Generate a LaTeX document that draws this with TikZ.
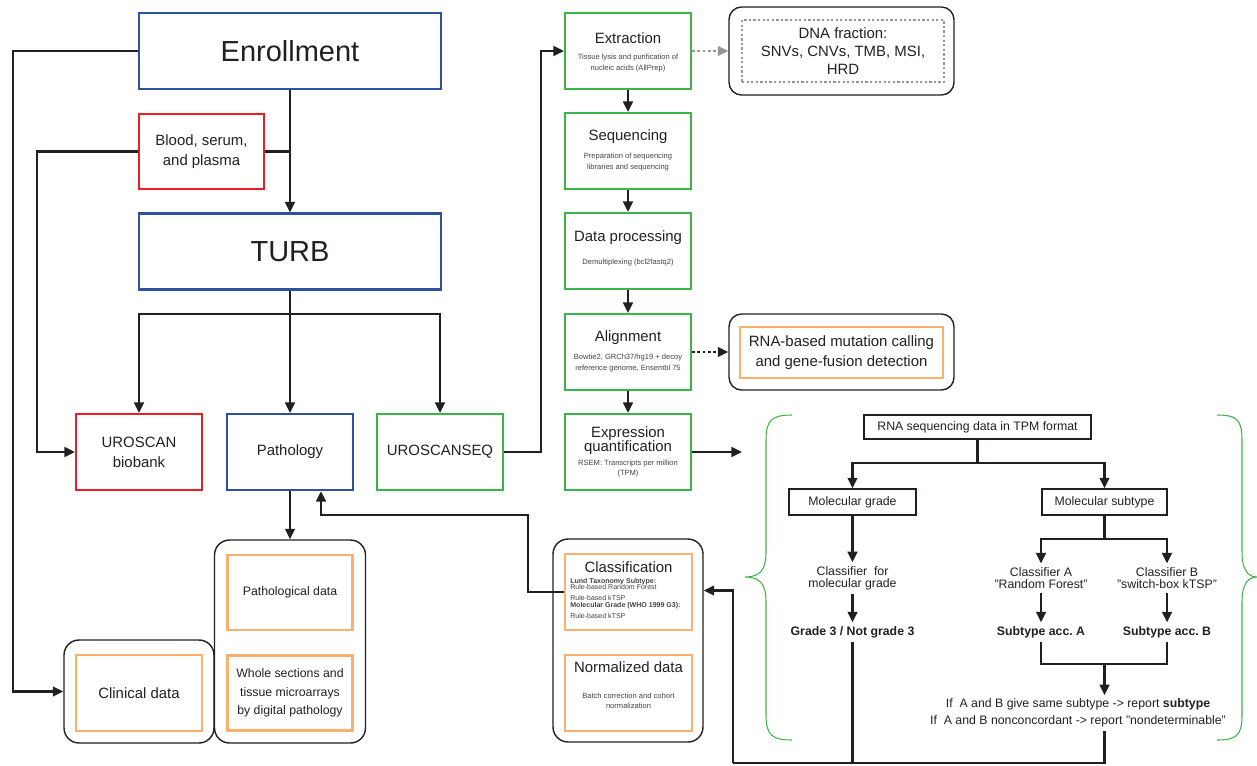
\documentclass[tikz,border=0pt]{standalone}
\usepackage{fontspec}
\setmainfont{Liberation Sans}
\usetikzlibrary{arrows.meta}
\definecolor{ink}{RGB}{35,31,32}
\definecolor{boxblue}{RGB}{46,82,160}
\definecolor{boxred}{RGB}{237,28,36}
\definecolor{boxgreen}{RGB}{57,181,74}
\definecolor{boxorange}{RGB}{251,176,110}
\definecolor{dotgray}{RGB}{150,150,150}
\definecolor{bracegreen}{RGB}{60,180,75}

\begin{document}
\begin{tikzpicture}[x=0.02cm, y=-0.02cm,
    box/.style={draw, line width=1.2pt, minimum width=2.52cm, minimum height=1.52cm, inner sep=0pt, align=center, text=ink, font=\fontsize{8.5}{11.3}\selectfont},
    bluebox/.style={box, draw=boxblue},
    redbox/.style={box, draw=boxred},
    greenbox/.style={box, draw=boxgreen},
    orangebox/.style={box, draw=boxorange, line width=1.3pt, minimum width=2.5cm, minimum height=1.5cm},
    grp/.style={draw=ink, line width=0.8pt, rounded corners=0.3cm, inner sep=0pt},
    ttl/.style={text=ink, inner sep=0pt, align=center, font=\fontsize{8.5}{11}\selectfont},
    subtxt/.style={text=ink!85, inner sep=0pt, align=center, font=\fontsize{4.3}{6}\selectfont},
    clstxt/.style={text=ink!85, inner sep=0pt, anchor=base west, font=\fontsize{4}{5}\selectfont},
    tbox/.style={draw=ink, line width=0.8pt, inner sep=0pt, text=ink, font=\fontsize{7}{8.5}\selectfont},
    ttxt/.style={text=ink, align=center, inner sep=2pt, font=\fontsize{7}{7}\selectfont},
    bttxt/.style={ttxt, font=\fontsize{7}{7}\selectfont\bfseries},
    link/.style={draw=ink, line width=1.35pt},
    arr/.style={link, -{Triangle[length=6pt,width=5.5pt]}},
    dotarr/.style={draw=dotgray, line width=1.3pt, dash pattern=on 1.5pt off 1.5pt, -{Triangle[length=6pt,width=5.5pt]}},
    brace/.style={draw=bracegreen, line width=0.6pt}]
  \useasboundingbox (0,0) rectangle (1257,765);

  \node[bluebox, minimum width=6.04cm, font=\fontsize{16.5}{20}\selectfont] (enroll) at (290,51) {Enrollment};
  \node[redbox, minimum width=2.5cm, minimum height=1.5cm] (blood) at (201.5,151.5) {Blood, serum,\\and plasma};
  \node[bluebox, minimum width=6.04cm, font=\fontsize{16.5}{20}\selectfont] (turb) at (290,251.5) {TURB};
  \node[redbox] (uroscan) at (139,452) {UROSCAN\\biobank};
  \node[bluebox] (patho) at (290,452) {Pathology};
  \node[greenbox] (useq) at (440,452) {UROSCANSEQ};

  \node[grp, minimum width=3.02cm, minimum height=4.06cm] (pathgrp) at (290,641.5) {};
  \node[orangebox, font=\fontsize{7}{10.4}\selectfont] (pathdata) at (290,592.5) {Pathological data};
  \node[orangebox, font=\fontsize{7}{10.4}\selectfont] (wsi) at (290,693) {Whole sections and\\tissue microarrays\\by digital pathology};
  \node[grp, minimum width=3cm, minimum height=2.06cm] (clingrp) at (139,691.5) {};
  \node[orangebox, minimum width=2.52cm, minimum height=1.52cm] (clin) at (139,693) {Clinical data};

  \draw[arr] (enroll) -- (turb);
  \draw[link] (blood) -- (blood -| enroll);
  \draw[arr] (blood.west) -- ++(-101,0) |- (uroscan);
  \draw[arr] (enroll.west) -- ++(-125,0) |- (clingrp);
  \coordinate (j0) at (290,314);
  \draw[link] (turb) -- (j0);
  \draw[arr] (j0) -- (patho);
  \draw[arr] (j0) -| (uroscan);
  \draw[arr] (j0) -| (useq);
  \draw[arr] (patho) -- (pathgrp);

  \foreach \n/\y in {ext/51,seq/151,proc/251,aln/352,expr/452}
    \node[greenbox] (\n) at (628,\y) {};
  \foreach \a/\b in {ext/seq,seq/proc,proc/aln,aln/expr}
    \draw[arr] (\a) -- (\b);
  \node[ttl] (extT) at (628,38) {Extraction};
  \node[subtxt] (extS) at (628,63) {Tissue lysis and purification of\\nucleic acids (AllPrep)};
  \node[ttl] (seqT) at (628,137) {Sequencing};
  \node[subtxt] (seqS) at (628,162) {Preparation of sequencing\\libraries and sequencing};
  \node[ttl] (procT) at (628,238) {Data processing};
  \node[subtxt] (procS) at (628,263) {Demultiplexing (bcl2fastq2)};
  \node[ttl] (alnT) at (628,338) {Alignment};
  \node[subtxt] (alnS) at (628,363) {Bowtie2, GRCh37/hg19 + decoy\\reference genome, Ensembl 75};
  \node[ttl, font=\fontsize{8.5}{8}\selectfont] (exprT) at (628,441) {Expression\\quantification};
  \node[subtxt] (exprS) at (628,468.5) {RSEM: Transcripts per million\\(TPM)};
  \draw[arr] (useq.east) -- ++(37,0) |- (ext);

  \node[grp, rounded corners=0.25cm, minimum width=4.5cm, minimum height=1.76cm] (dnagrp) at (841.5,51) {};
  \node[draw=dotgray, line width=1.3pt, dash pattern=on 1.3pt off 1.3pt, minimum width=4.04cm, minimum height=1.24cm, inner sep=0pt, align=center, text=ink, font=\fontsize{8.5}{10.2}\selectfont] (dna) at (843,51) {DNA fraction:\\SNVs, CNVs, TMB, MSI,\\HRD};
  \draw[dotarr] (ext) -- (dnagrp);
  \node[grp, rounded corners=0.25cm, minimum width=4.5cm, minimum height=1.52cm] (rnagrp) at (841.5,352) {};
  \node[orangebox, minimum width=4.06cm, minimum height=1.02cm] (rnamut) at (841.5,352.5) {RNA-based mutation calling\\and gene-fusion detection};
  \draw[arr, dash pattern=on 1.5pt off 1.5pt] (aln) -- (rnagrp);
  \coordinate (bracein) at (742,452);
  \draw[arr] (expr) -- (bracein);

  \node[grp, minimum width=3cm, minimum height=4.06cm] (clsgrp) at (628,640.5) {};
  \node[orangebox, minimum width=2.54cm, minimum height=1.52cm] (cls) at (628.5,592) {};
  \node[ttl] (clsT) at (628.5,567) {Classification};
  \foreach \i/\y/\t in {1/583.7/\textbf{Lund Taxonomy Subtype:}, 2/589.3/Rule-based Random Forest, 3/600.3/Rule-based kTSP, 4/607.3/\textbf{Molecular Grade (WHO 1999 G3):}, 5/618.7/Rule-based kTSP}
    \node[clstxt] (clsL\i) at (570,\y) {\t};
  \node[orangebox, minimum width=2.54cm, minimum height=1.52cm] (norm) at (628.5,693) {};
  \node[ttl] (normT) at (628.5,667) {Normalized data};
  \node[subtxt] (normS) at (628.5,701) {Batch correction and cohort\\normalization};
  \draw[arr] (cls.west) -- ++(-36,0) -- ++(0,-77) -| ([xshift=0.62cm]patho.south);

  \draw[brace] (792,415) .. controls (772,415) and (766,420) .. (766,440) -- (766,552) .. controls (766,570) and (760,577) .. (745,577) .. controls (760,577) and (766,584) .. (766,602) -- (766,715) .. controls (766,735) and (772,740) .. (792,740);
  \draw[brace] (1217,415) .. controls (1237,415) and (1242,420) .. (1242,440) -- (1242,552) .. controls (1242,570) and (1248,577) .. (1257,577) .. controls (1248,577) and (1242,584) .. (1242,602) -- (1242,715) .. controls (1242,735) and (1237,740) .. (1217,740);

  \node[tbox, minimum width=4.54cm, minimum height=0.48cm] (rnaseq) at (977.5,427) {RNA sequencing data in TPM format};
  \node[tbox, minimum width=2.54cm, minimum height=0.52cm] (molgrade) at (852.5,502) {Molecular grade};
  \node[tbox, minimum width=2.5cm, minimum height=0.52cm] (molsub) at (1104.5,502) {Molecular subtype};
  \node[ttxt] (clsgrade) at (852.5,578) {Classifier\ \ for\\molecular grade};
  \node[bttxt] (grade3) at (852.5,632) {Grade 3 / Not grade 3};
  \node[ttxt] (clsA) at (1041,578) {Classifier A\\"Random Forest"};
  \node[ttxt] (clsB) at (1167,578) {Classifier B\\"switch-box kTSP"};
  \node[bttxt] (subA) at (1041,632) {Subtype acc.\ A};
  \node[bttxt] (subB) at (1167,632) {Subtype acc.\ B};
  \node[ttxt, font=\fontsize{7}{9.4}\selectfont] (report) at (1078,713) {If\ \ A and B give same subtype -> report \textbf{subtype}\\If\ \ A and B nonconcordant -> report "nondeterminable"};

  \coordinate (j1) at (977.5,463);
  \draw[link] (rnaseq) -- (j1);
  \draw[arr] (j1) -| (molgrade);
  \draw[arr] (j1) -| (molsub);
  \draw[arr] (molgrade) -- (clsgrade);
  \draw[arr] (clsgrade) -- (grade3);
  \coordinate (j2) at (1104.5,539);
  \draw[link] (molsub) -- (j2);
  \draw[arr] (j2) -| (clsA);
  \draw[arr] (j2) -| (clsB);
  \draw[arr] (clsA) -- (subA);
  \draw[arr] (clsB) -- (subB);
  \coordinate (j3) at (1104.5,664);
  \draw[link] (subA) |- (j3) -| (subB);
  \draw[arr] (j3) -- (j3 |- report.north);
  \coordinate (bot) at (733,763);
  \draw[link] (j3 |- report.south) |- (bot);
  \draw[link] (grade3) -- (grade3 |- bot);
  \draw[arr] (bot) |- ([yshift=1cm]clsgrp.east);
\end{tikzpicture}
\end{document}
